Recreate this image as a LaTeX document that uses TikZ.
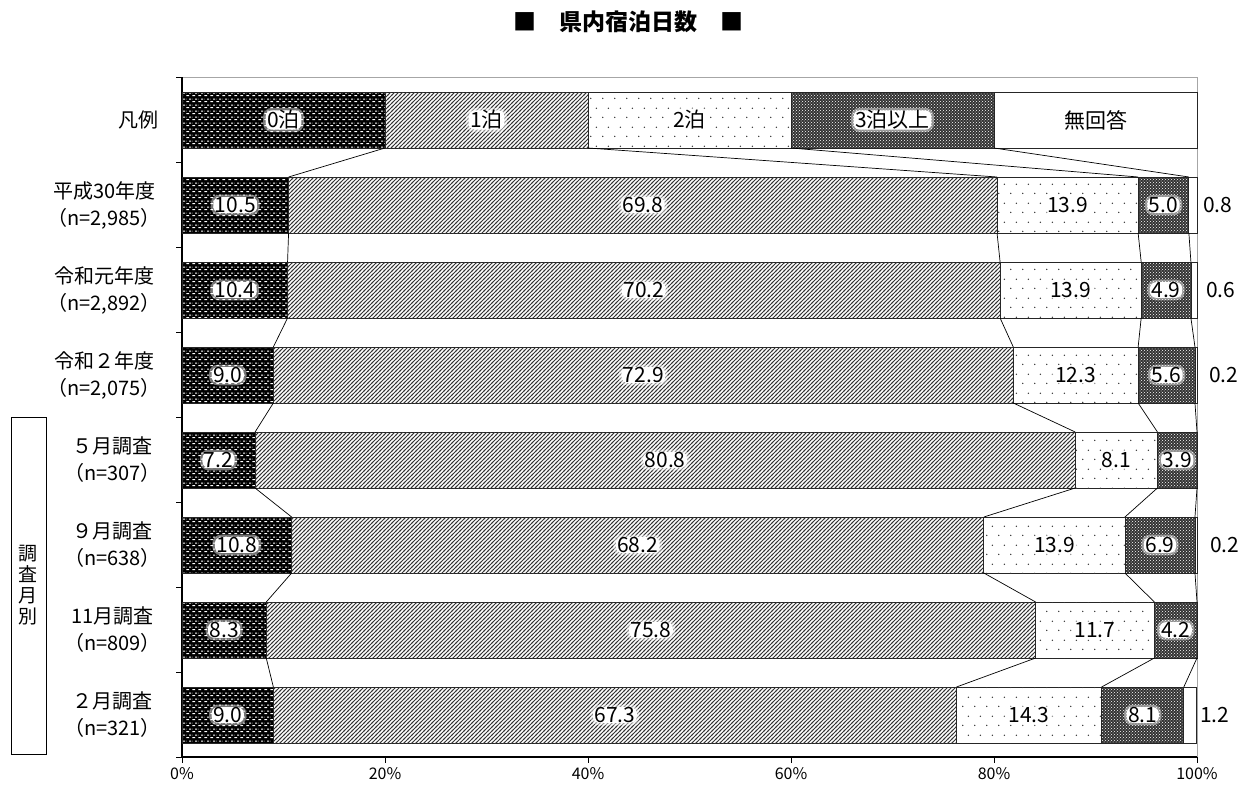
\documentclass[tikz,border=0pt]{standalone}
\usepackage{fontspec}
\setmainfont{Noto Sans CJK JP}
\usetikzlibrary{patterns, positioning}

\pgfdeclarepatternformonly{brickdash}{\pgfpointorigin}{\pgfpoint{6pt}{6pt}}{\pgfpoint{6pt}{6pt}}{
  \pgfpathrectangle{\pgfpoint{0.5pt}{1pt}}{\pgfpoint{3pt}{1.1pt}}
  \pgfpathrectangle{\pgfpoint{3.5pt}{4pt}}{\pgfpoint{2.5pt}{1.1pt}}
  \pgfpathrectangle{\pgfpoint{0pt}{4pt}}{\pgfpoint{0.5pt}{1.1pt}}
  \pgfusepath{fill}
}
\pgfdeclarepatternformonly{densehatch}{\pgfpoint{-1pt}{-1pt}}{\pgfpoint{5pt}{5pt}}{\pgfpoint{4pt}{4pt}}{
  \pgfsetlinewidth{0.9pt}
  \pgfpathmoveto{\pgfpoint{-1pt}{-1pt}}
  \pgfpathlineto{\pgfpoint{5pt}{5pt}}
  \pgfusepath{stroke}
}
\pgfdeclarepatternformonly{sparsedots}{\pgfpointorigin}{\pgfpoint{12pt}{19pt}}{\pgfpoint{12pt}{19pt}}{
  \pgfpathcircle{\pgfpoint{3pt}{4.75pt}}{0.8pt}
  \pgfpathcircle{\pgfpoint{9pt}{14.25pt}}{0.8pt}
  \pgfusepath{fill}
}

\begin{document}
\begin{tikzpicture}[
  x=1pt, y=-1pt,
  font=\fontsize{21}{24}\selectfont,
  seg/.style = {draw=black!85, line width=0.8pt, inner sep=0pt, outer sep=0pt,
                minimum height=56, anchor=west},
  zerobox/.style = {seg, preaction={fill=black}, pattern=brickdash, pattern color=white},
  onebox/.style = {seg, fill=white, postaction={pattern=densehatch, pattern color=black!80}},
  twobox/.style = {seg, fill=white, postaction={pattern=sparsedots, pattern color=black!80}},
  threebox/.style = {seg, preaction={fill=black!80}, pattern=crosshatch dots, pattern color=white},
  nonebox/.style = {seg, fill=white},
  val/.style = {fill=white, rounded corners=6pt, inner xsep=1.5pt, inner ysep=0pt,
                preaction={draw=white, line width=5pt, draw opacity=0.45}},
  outval/.style = {inner sep=0pt},
  rowlabel/.style = {anchor=east, align=center, inner sep=0pt,
                     font=\fontsize{20}{27}\selectfont},
  ticklabel/.style = {font=\fontsize{16}{16}\selectfont, inner sep=0pt},
  conn/.style = {black, line width=0.7pt}
]
\useasboundingbox (0,0) rectangle (1245,787);

% Title
\node[font=\bfseries\fontsize{23}{23}\selectfont] (title) at (628,22) {■　県内宿泊日数　■};

% Plot frame and axes
\draw[gray!70, line width=0.8pt] (182,77) -- (1197,77) -- (1197,757);
\draw[black, line width=1.5pt] (182,77) -- (182,757);
\draw[black, line width=2pt] (182,757) -- (1197,757);
\foreach \k in {0,...,8}
  \draw[black, line width=0.8pt] (176,77+85*\k) -- (182,77+85*\k);
\foreach \p in {0,20,...,100} {
  \draw[black, line width=0.8pt] (182+10.15*\p,757) -- ++(0,6);
  \node[ticklabel] (tick\p) at (182+10.15*\p,774) {\p\%};
}

% Legend row
\node[zerobox, minimum width=203] (r0-1) at (182,120) {};
\node[onebox, minimum width=203] (r0-2) at (r0-1.east) {};
\node[twobox, minimum width=203] (r0-3) at (r0-2.east) {};
\node[threebox, minimum width=203] (r0-4) at (r0-3.east) {};
\node[nonebox, minimum width=203] (r0-5) at (r0-4.east) {};
\node[val] at (r0-1.center) {0泊};
\node[val] at (r0-2.center) {1泊};
\node[val] at (r0-3.center) {2泊};
\node[val] at (r0-4.center) {3泊以上};
\node at (r0-5.center) {無回答};

% Data rows
\foreach \r/\a/\b/\c/\d/\e in {1/10.5/69.8/13.9/5.0/0.8, 2/10.4/70.2/13.9/4.9/0.6,
    3/9.0/72.9/12.3/5.6/0.2, 4/7.2/80.8/8.1/3.9/0, 5/10.8/68.2/13.9/6.9/0.2,
    6/8.3/75.8/11.7/4.2/0, 7/9.0/67.3/14.3/8.1/1.2} {
  \pgfmathsetmacro\y{120+85*\r}
  \node[zerobox, minimum width=10.15*\a] (r\r-1) at (182,\y) {};
  \node[onebox, minimum width=10.15*\b] (r\r-2) at (r\r-1.east) {};
  \node[twobox, minimum width=10.15*\c] (r\r-3) at (r\r-2.east) {};
  \node[threebox, minimum width=10.15*\d] (r\r-4) at (r\r-3.east) {};
  \node[nonebox, minimum width=10.15*\e] (r\r-5) at (r\r-4.east) {};
  \node[val] at (r\r-1.center) {\a};
  \node[val] at (r\r-2.center) {\b};
  \node[val] at (r\r-3.center) {\c};
  \node[val] at (r\r-4.center) {\d};
}

% No answer values outside the bars
\node[outval, right=6pt of r1-5] (na1) {0.8};
\node[outval, right=9pt of r2-5] (na2) {0.6};
\node[outval, right=12pt of r3-5] (na3) {0.2};
\node[outval, right=13pt of r5-5] (na5) {0.2};
\node[outval, right=4pt of r7-5] (na7) {1.2};

% Series lines between bars
\foreach \r [evaluate=\r as \s using int(\r+1)] in {0,...,6}
  \foreach \k in {1,...,4}
    \draw[conn] (r\r-\k.south east) -- (r\s-\k.north east);

% Row labels
\node[rowlabel] (lab0) at (159,120) {凡例};
\node[rowlabel] (lab1) at (161,205) {平成30年度\\（n=2,985）};
\node[rowlabel] (lab2) at (161,290) {令和元年度\\（n=2,892）};
\node[rowlabel] (lab3) at (161,375) {令和２年度\\（n=2,075）};
\node[rowlabel] (lab4) at (161,460) {５月調査\\（n=307）};
\node[rowlabel] (lab5) at (161,545) {９月調査\\（n=638）};
\node[rowlabel] (lab6) at (161,630) {11月調査\\（n=809）};
\node[rowlabel] (lab7) at (161,715) {２月調査\\（n=321）};

% Side box for the monthly surveys
\node[draw, line width=0.8pt, minimum width=35, minimum height=337, inner sep=0pt,
      align=center, font=\fontsize{19}{21}\selectfont] (sidebox) at (28.5,585.5) {調\\査\\月\\別};

\end{tikzpicture}
\end{document}
